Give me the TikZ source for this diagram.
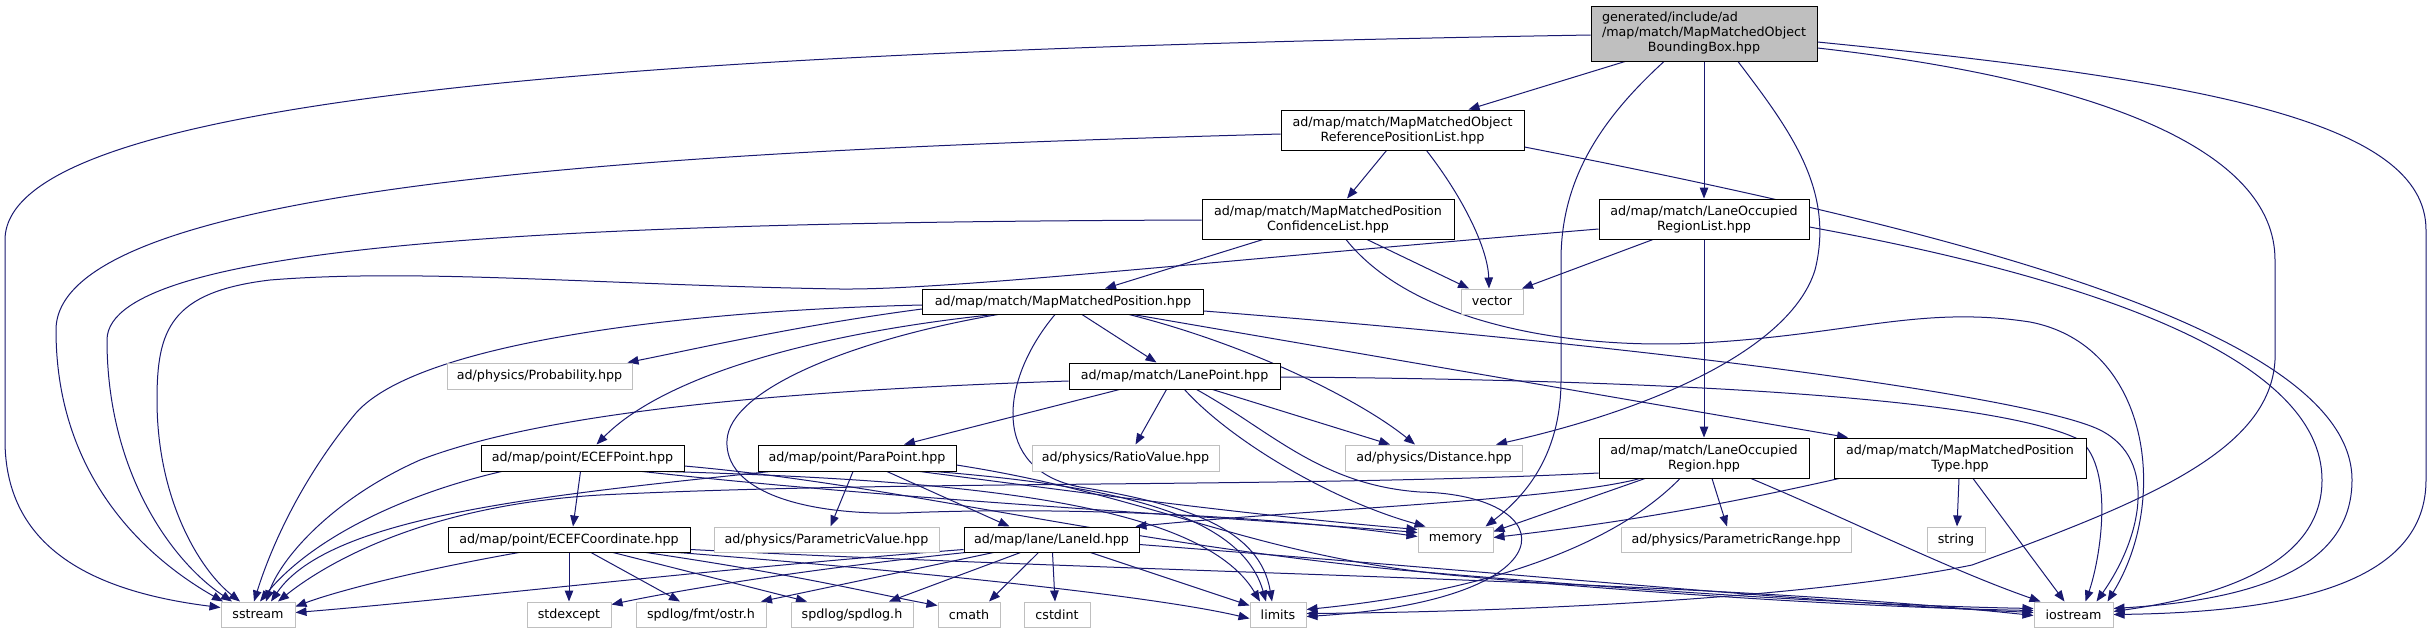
\documentclass[tikz,border=0pt]{standalone}
\usepackage{fontspec}
\setmainfont{DejaVu Sans}
\usetikzlibrary{arrows.meta}
\definecolor{midnightblue}{HTML}{191970}
\definecolor{greyseventyfive}{HTML}{BFBFBF}
\newcommand{\nodefont}{\fontsize{12.7}{15}\selectfont}
\pgfdeclarelayer{edgelayer}
\pgfdeclarelayer{paperlayer}
\pgfsetlayers{paperlayer,edgelayer,main}
\begin{document}
\begin{tikzpicture}[x=1pt,y=-1pt,
  box/.style={draw=black, fill=white, line width=1pt, inner sep=0pt, font=\nodefont, align=center},
  ext/.style={box, draw=greyseventyfive},
  edge/.style={draw=midnightblue, line width=1pt, -{Triangle[length=11pt,width=8.5pt]}}]
\begin{pgfonlayer}{paperlayer}
\fill[white] (0,0) rectangle (2433,633);
\end{pgfonlayer}
\useasboundingbox (0,0) rectangle (2433,633);
% nodes
\node[box, fill=greyseventyfive, minimum width=226pt, minimum height=55pt] (root) at (1704,33.5)
  {\begin{tabular}{@{}l@{}}generated/include/ad\\/map/match/MapMatchedObject\\\multicolumn{1}{@{}c@{}}{BoundingBox.hpp}\end{tabular}};
\node[box, minimum width=243pt, minimum height=40pt] (refpos) at (1402.5,130) {ad/map/match/MapMatchedObject\\ReferencePositionList.hpp};
\node[box, minimum width=252pt, minimum height=40pt] (conf) at (1328,219) {ad/map/match/MapMatchedPosition\\ConfidenceList.hpp};
\node[box, minimum width=210pt, minimum height=40pt] (lorl) at (1704,219) {ad/map/match/LaneOccupied\\RegionList.hpp};
\node[ext, minimum width=62pt, minimum height=25pt] (vector) at (1492,301.5) {vector};
\node[box, minimum width=281pt, minimum height=25pt] (mmp) at (1063,301.5) {ad/map/match/MapMatchedPosition.hpp};
\node[ext, minimum width=185pt, minimum height=26pt] (prob) at (539.5,376) {ad/physics/Probability.hpp};
\node[box, minimum width=211pt, minimum height=26pt] (lanepoint) at (1174.5,376) {ad/map/match/LanePoint.hpp};
\node[box, minimum width=203pt, minimum height=26pt] (ecefpt) at (582.5,458) {ad/map/point/ECEFPoint.hpp};
\node[box, minimum width=198pt, minimum height=26pt] (parapt) at (857,458) {ad/map/point/ParaPoint.hpp};
\node[ext, minimum width=187pt, minimum height=26pt] (ratio) at (1125.5,458) {ad/physics/RatioValue.hpp};
\node[ext, minimum width=177pt, minimum height=26pt] (distance) at (1434,458) {ad/physics/Distance.hpp};
\node[box, minimum width=210pt, minimum height=40pt] (lor) at (1704,458) {ad/map/match/LaneOccupied\\Region.hpp};
\node[box, minimum width=252pt, minimum height=40pt] (mmpt) at (1960,458) {ad/map/match/MapMatchedPosition\\Type.hpp};
\node[box, minimum width=242pt, minimum height=25pt] (ecefc) at (569,539.5) {ad/map/point/ECEFCoordinate.hpp};
\node[ext, minimum width=225pt, minimum height=25pt] (paramval) at (826.5,539.5) {ad/physics/ParametricValue.hpp};
\node[box, minimum width=175pt, minimum height=25pt] (laneid) at (1051.5,539.5) {ad/map/lane/LaneId.hpp};
\node[ext, minimum width=75pt, minimum height=25pt] (memory) at (1455.5,539.5) {memory};
\node[ext, minimum width=230pt, minimum height=25pt] (paramrange) at (1736,539.5) {ad/physics/ParametricRange.hpp};
\node[ext, minimum width=58pt, minimum height=25pt] (string) at (1956,539.5) {string};
\node[ext, minimum width=74pt, minimum height=25pt] (sstream) at (258,614.5) {sstream};
\node[ext, minimum width=84pt, minimum height=25pt] (stdexcept) at (569,614.5) {stdexcept};
\node[ext, minimum width=130pt, minimum height=25pt] (ostr) at (701,614.5) {spdlog/fmt/ostr.h};
\node[ext, minimum width=122pt, minimum height=25pt] (spdlog) at (852,614.5) {spdlog/spdlog.h};
\node[ext, minimum width=62pt, minimum height=25pt] (cmath) at (969,614.5) {cmath};
\node[ext, minimum width=66pt, minimum height=25pt] (cstdint) at (1057,614.5) {cstdint};
\node[ext, minimum width=56pt, minimum height=25pt] (limits) at (1278,614.5) {limits};
\node[ext, minimum width=79pt, minimum height=25pt] (iostream) at (2073.5,614.5) {iostream};
\begin{pgfonlayer}{edgelayer}
% root edges
\draw[edge] ([yshift=-1.5pt]root.west) .. controls (700,50) and (5,90) .. (5,240) -- (5,440) .. controls (5,540) and (80,590) .. ([yshift=7pt]sstream.west);
\draw[edge] ([xshift=-79pt]root.south) -- ([xshift=66pt]refpos.north);
\draw[edge] ([xshift=-40pt]root.south) .. controls (1600,120) and (1561,180) .. (1561,260) -- (1561,380) .. controls (1561,460) and (1520,500) .. ([xshift=30pt]memory.north);
\draw[edge] ([xshift=34pt]root.south) .. controls (1790,130) and (1835,190) .. (1815,270) .. controls (1790,350) and (1650,410) .. ([xshift=62pt]distance.north);
\draw[edge] (root.south) -- (lorl.north);
\draw[edge] ([yshift=-14.5pt]root.east) .. controls (2100,80) and (2275,150) .. (2275,260) -- (2275,360) .. controls (2270,450) and (2150,500) .. (1972,565) .. controls (1800,600) and (1500,612) .. ([yshift=1pt]limits.east);
\draw[edge] ([yshift=-8.5pt]root.east) .. controls (2200,80) and (2426,120) .. (2426,230) -- (2426,480) .. controls (2426,580) and (2300,612) .. (iostream.east);
% refpos edges
\draw[edge] ([yshift=-4pt]refpos.west) .. controls (700,150) and (56,180) .. (56,330) .. controls (56,480) and (150,560) .. ([xshift=-35pt]sstream.north);
\draw[edge] ([xshift=-16pt]refpos.south) -- ([xshift=19pt]conf.north);
\draw[edge] ([xshift=24pt]refpos.south) .. controls (1465,200) and (1488,250) .. ([xshift=-3pt]vector.north);
\draw[edge] ([yshift=-17pt]refpos.east) .. controls (1950,230) and (2352,330) .. (2352,480) .. controls (2352,570) and (2250,600) .. ([yshift=6pt]iostream.east);
% conf edges
\draw[edge] ([yshift=-1pt]conf.west) .. controls (600,222) and (107,240) .. (107,340) .. controls (107,470) and (170,560) .. ([xshift=-26pt]sstream.north);
\draw[edge] ([xshift=-65pt]conf.south) -- ([xshift=42pt]mmp.north);
\draw[edge] ([xshift=39pt]conf.south) -- ([xshift=-23pt]vector.north);
\draw[edge] ([xshift=18pt]conf.south) .. controls (1410,320) and (1560,350) .. (1700,343) .. controls (1850,335) and (1920,305) .. (2030,322) .. controls (2150,345) and (2170,500) .. ([xshift=34pt]iostream.north);
% lorl edges
\draw[edge] ([yshift=-10pt]lorl.west) .. controls (1200,262) and (950,290) .. (840,289) .. controls (600,285) and (420,268) .. (270,280) .. controls (170,292) and (157,330) .. (157,400) .. controls (157,500) and (200,570) .. ([xshift=-18pt]sstream.north);
\draw[edge] ([xshift=-51pt]lorl.south) -- ([xshift=30pt]vector.north);
\draw[edge] (lorl.south) -- (lor.north);
\draw[edge] ([yshift=-8pt]lorl.east) .. controls (2100,280) and (2322,360) .. (2322,480) .. controls (2322,560) and (2230,595) .. ([yshift=3pt]iostream.east);
% mmp edges
\draw[edge] ([yshift=-3.5pt]mmp.west) .. controls (700,310) and (420,340) .. (356,413) .. controls (300,480) and (270,550) .. ([xshift=-4pt]sstream.north);
\draw[edge] ([yshift=-7.5pt]mmp.west) .. controls (800,325) and (700,348) .. ([xshift=88pt]prob.north);
\draw[edge] ([xshift=-69pt]mmp.south) .. controls (800,335) and (660,380) .. ([xshift=14pt]ecefpt.north);
\draw[edge] ([xshift=-65pt]mmp.south) .. controls (850,340) and (730,390) .. (727,440) .. controls (724,490) and (800,515) .. (900,513) .. controls (1100,505) and (1300,520) .. ([yshift=3pt]memory.west);
\draw[edge] ([xshift=-8pt]mmp.south) .. controls (1000,380) and (990,470) .. (1080,487) .. controls (1190,505) and (1260,530) .. ([xshift=-6pt]limits.north);
\draw[edge] ([xshift=19pt]mmp.south) -- ([xshift=-18pt]lanepoint.north);
\draw[edge] ([xshift=66pt]mmp.south) .. controls (1250,345) and (1360,400) .. ([xshift=-19pt]distance.north);
\draw[edge] ([xshift=70pt]mmp.south) -- ([xshift=-112pt]mmpt.north);
\draw[edge] ([yshift=-9.5pt]mmp.east) .. controls (1700,350) and (2040,400) .. (2100,430) .. controls (2160,460) and (2140,540) .. ([xshift=23pt]iostream.north);
% lanepoint edges
\draw[edge] ([yshift=-5pt]lanepoint.west) .. controls (800,390) and (550,410) .. (420,460) .. controls (330,500) and (280,560) .. ([xshift=8pt]sstream.north);
\draw[edge] ([xshift=-55pt]lanepoint.south) -- ([xshift=47pt]parapt.north);
\draw[edge] ([xshift=-8pt]lanepoint.south) -- ([xshift=10pt]ratio.north);
\draw[edge] ([xshift=38pt]lanepoint.south) -- ([xshift=-44pt]distance.north);
\draw[edge] ([xshift=10pt]lanepoint.south) .. controls (1230,440) and (1330,500) .. ([xshift=-30pt]memory.north);
\draw[edge] ([xshift=22pt]lanepoint.south) .. controls (1270,430) and (1320,485) .. (1420,492) .. controls (1565,495) and (1575,600) .. ([yshift=-2pt]limits.east);
\draw[edge] ([yshift=-1pt]lanepoint.east) .. controls (1700,380) and (2000,400) .. (2080,440) .. controls (2115,470) and (2100,560) .. ([xshift=12pt]iostream.north);
% ecefpt edges
\draw[edge] ([xshift=-2pt]ecefpt.south) -- ([xshift=4pt]ecefc.north);
\draw[edge] ([xshift=-81pt]ecefpt.south) .. controls (400,495) and (310,540) .. ([xshift=2pt]sstream.north);
\draw[edge] ([xshift=60pt]ecefpt.south) .. controls (900,500) and (1200,515) .. ([yshift=7pt]memory.west);
\draw[edge] ([xshift=85pt]ecefpt.south) .. controls (950,480) and (1200,500) .. ([xshift=-18pt]limits.north);
\draw[edge] ([yshift=-8pt]ecefpt.east) .. controls (900,485) and (1100,540) .. (1400,570) .. controls (1700,596) and (1900,606) .. ([yshift=6pt]iostream.west);
% parapt edges
\draw[edge] ([xshift=-4pt]parapt.south) -- ([xshift=4pt]paramval.north);
\draw[edge] ([xshift=30pt]parapt.south) -- ([xshift=-42pt]laneid.north);
\draw[edge] ([xshift=-87pt]parapt.south) .. controls (550,495) and (330,515) .. ([xshift=13pt]sstream.north);
\draw[edge] ([xshift=63pt]parapt.south) .. controls (1100,495) and (1250,515) .. ([yshift=10pt]memory.west);
\draw[edge] ([xshift=78pt]parapt.south) .. controls (1100,485) and (1240,510) .. ([xshift=-12pt]limits.north);
\draw[edge] ([yshift=-7pt]parapt.east) .. controls (1150,495) and (1250,555) .. (1450,575) .. controls (1700,598) and (1900,608) .. ([yshift=4pt]iostream.west);
% ecefc edges
\draw[edge] ([xshift=-50pt]ecefc.south) .. controls (420,570) and (340,590) .. ([yshift=8pt]sstream.east);
\draw[edge] (ecefc.south) -- (stdexcept.north);
\draw[edge] ([xshift=22pt]ecefc.south) -- ([xshift=-21pt]ostr.north);
\draw[edge] ([xshift=44pt]ecefc.south) -- ([xshift=-45pt]spdlog.north);
\draw[edge] ([xshift=77pt]ecefc.south) .. controls (800,575) and (880,595) .. ([yshift=9pt]cmath.west);
\draw[edge] ([xshift=109pt]ecefc.south) .. controls (900,570) and (1150,595) .. ([yshift=-4pt]limits.west);
\draw[edge] ([yshift=-10pt]ecefc.east) .. controls (1200,575) and (1700,580) .. ([yshift=-1pt]iostream.west);
% laneid edges
\draw[edge] ([yshift=-10pt]laneid.west) .. controls (700,570) and (450,600) .. ([yshift=2pt]sstream.east);
\draw[edge] ([xshift=-86pt]laneid.south) .. controls (800,570) and (680,590) .. ([yshift=10pt]stdexcept.east);
\draw[edge] ([xshift=-58pt]laneid.south) -- ([xshift=60pt]ostr.north);
\draw[edge] ([xshift=-31pt]laneid.south) -- ([xshift=37pt]spdlog.north);
\draw[edge] ([xshift=-13pt]laneid.south) -- ([xshift=20pt]cmath.north);
\draw[edge] ([xshift=1pt]laneid.south) -- ([xshift=-2pt]cstdint.north);
\draw[edge] ([xshift=39pt]laneid.south) -- ([yshift=9pt]limits.west);
\draw[edge] ([yshift=-5pt]laneid.east) .. controls (1500,572) and (1800,602) .. ([yshift=2pt]iostream.west);
% lor edges
\draw[edge] ([yshift=-15pt]lor.west) .. controls (1300,488) and (900,480) .. (600,495) .. controls (430,505) and (330,560) .. ([xshift=20pt]sstream.north);
\draw[edge] ([xshift=-64pt]lor.south) .. controls (1560,500) and (1300,510) .. ([xshift=84pt]laneid.north);
\draw[edge] ([xshift=8pt]lor.south) -- ([xshift=-9pt]paramrange.north);
\draw[edge] ([xshift=-59pt]lor.south) -- ([yshift=8pt]memory.east);
\draw[edge] ([xshift=-24pt]lor.south) .. controls (1620,540) and (1500,590) .. ([yshift=5pt]limits.east);
\draw[edge] ([xshift=47pt]lor.south) .. controls (1850,520) and (1950,570) .. ([xshift=-33pt]iostream.north);
% mmpt edges
\draw[edge] ([xshift=-121pt]mmpt.south) .. controls (1700,510) and (1600,525) .. ([yshift=2pt]memory.east);
\draw[edge] ([xshift=-1pt]mmpt.south) -- ([xshift=1pt]string.north);
\draw[edge] ([xshift=13pt]mmpt.south) -- ([xshift=-9pt]iostream.north);
\end{pgfonlayer}
\end{tikzpicture}
\end{document}
